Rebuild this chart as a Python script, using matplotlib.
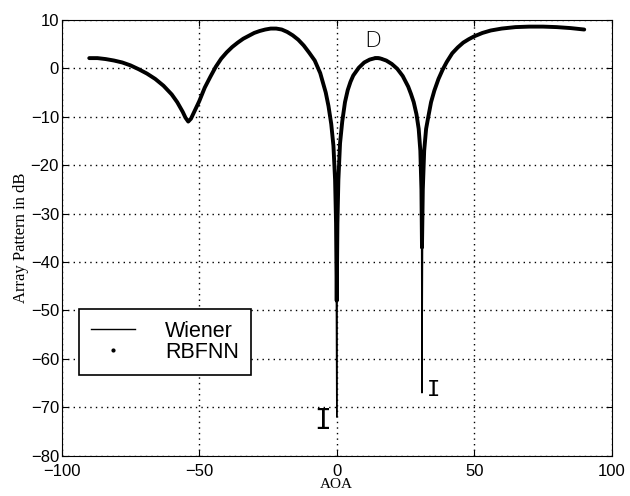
import numpy as np
import matplotlib
matplotlib.use("Agg")
import matplotlib.pyplot as plt
from matplotlib.lines import Line2D

# angle of arrival (deg) and array pattern (dB)
aoa = [-90, -87, -84, -81, -78, -75, -72, -69, -66, -63, -60, -58, -56, -55,
       -54, -53, -52, -50, -48, -46, -44, -42, -40, -38, -36, -34, -32, -30,
       -28, -26, -24, -22, -20, -18, -16, -14, -12, -10, -8, -6, -5, -4, -3,
       -2, -1.2, -0.6, -0.25, 0, 0.25, 0.6, 1.2, 2, 3, 4, 5, 6, 8, 10, 12,
       14, 15, 16, 18, 20, 22, 24, 26, 27, 28, 29, 29.8, 30.4, 30.8, 31,
       31.3, 31.8, 32.5, 33.3, 34.3, 35.5, 37, 38.5, 40, 42, 44, 46, 48, 50,
       53, 56, 60, 65, 70, 75, 80, 85, 90]

wiener = [2.1, 2.1, 1.9, 1.6, 1.2, 0.6, -0.2, -1.1, -2.2, -3.6, -5.4, -7.0,
          -9.0, -10.2, -11.0, -10.4, -9.2, -6.8, -4.0, -1.8, 0.3, 2.0, 3.3,
          4.4, 5.3, 6.1, 6.7, 7.3, 7.7, 8.0, 8.2, 8.2, 8.0, 7.5, 6.8, 5.9,
          4.7, 3.2, 1.6, -1.0, -3.0, -5.0, -7.8, -11.5, -16.0, -23.0, -32.0,
          -72.0, -32.0, -23.0, -15.5, -11.0, -7.0, -4.5, -2.8, -1.5, 0.1, 1.2,
          1.9, 2.3, 2.3, 2.2, 1.7, 1.0, -0.1, -1.6, -3.8, -5.3, -7.0, -9.5,
          -12.5, -17.0, -25.0, -67.0, -25.0, -17.0, -12.5, -10.0, -7.0, -4.6,
          -2.2, -0.3, 1.3, 3.1, 4.3, 5.3, 6.0, 6.6, 7.3, 7.8, 8.2, 8.5, 8.6,
          8.6, 8.5, 8.3, 8.0]

rbfnn = [2.1, 2.1, 1.9, 1.6, 1.2, 0.6, -0.2, -1.1, -2.2, -3.6, -5.4, -7.0,
         -9.0, -10.2, -11.0, -10.4, -9.2, -6.8, -4.0, -1.8, 0.3, 2.0, 3.3,
         4.4, 5.3, 6.1, 6.7, 7.3, 7.7, 8.0, 8.2, 8.2, 8.0, 7.5, 6.8, 5.9,
         4.7, 3.2, 1.6, -1.0, -3.0, -5.0, -7.8, -11.5, -16.0, -23.0, -32.0,
         -48.0, -32.0, -23.0, -15.5, -11.0, -7.0, -4.5, -2.8, -1.5, 0.1, 1.2,
         1.8, 2.1, 2.1, 2.0, 1.6, 0.9, -0.1, -1.6, -3.8, -5.3, -7.0, -9.5,
         -12.5, -17.0, -25.0, -37.0, -25.0, -17.0, -12.5, -10.0, -7.0, -4.6,
         -2.2, -0.3, 1.3, 3.1, 4.3, 5.3, 6.0, 6.6, 7.3, 7.8, 8.2, 8.5, 8.6,
         8.6, 8.5, 8.3, 8.0]

xticks = [-100, -50, 0, 50, 100]
yticks = [10, 0, -10, -20, -30, -40, -50, -60, -70, -80]

fig = plt.figure(figsize=(6.3, 4.96), dpi=100)
ax = fig.add_axes([0.098, 0.081, 0.873, 0.879])

ax.plot(aoa, rbfnn, color='black', lw=2.8, solid_capstyle='round',
        solid_joinstyle='round')
ax.plot(aoa, wiener, color='black', lw=1.0)

ax.set_xlim(-100, 100)
ax.set_ylim(-80, 10)
ax.set_xticks(xticks)
ax.set_yticks(yticks)
ax.grid(True, color='black', ls=(0, (1.0, 3.0)), lw=1.0)
ax.tick_params(direction='in', top=True, right=True, labelsize=12, length=4)
ax.tick_params(axis='x', pad=6)
ax.tick_params(axis='y', pad=2)
for lab in ax.get_xticklabels() + ax.get_yticklabels():
    lab.set_family('Liberation Sans')

ax.set_xlabel('AOA', family='Liberation Serif', fontsize=11, labelpad=-1)
ax.set_ylabel('Array Pattern in dB', family='Liberation Serif', fontsize=12,
              labelpad=1)

# hand-written markers on the original
ax.text(13.3, 5.6, 'D', fontsize=16, family='DejaVu Sans', ha='center',
        va='center', fontweight='light')
ax.text(-5.0, -72.9, 'I', fontsize=20, family='DejaVu Sans Mono',
        ha='center', va='center')
ax.text(35.3, -66.5, 'I', fontsize=16, family='DejaVu Sans Mono',
        ha='center', va='center')

handles = [Line2D([], [], color='black', lw=1.0),
           Line2D([], [], color='black', ls='none', marker='.', markersize=4)]
leg = ax.legend(handles, ['Wiener', 'RBFNN'], loc='lower left',
                bbox_to_anchor=(0.031, 0.186), borderaxespad=0,
                prop={'family': 'Liberation Sans', 'size': 15.5},
                fancybox=False, edgecolor='black', framealpha=1,
                handlelength=2.05, handletextpad=1.4, labelspacing=0.0,
                borderpad=0.55)
leg.get_frame().set_linewidth(1.2)

fig.savefig('out.png', dpi=100)
